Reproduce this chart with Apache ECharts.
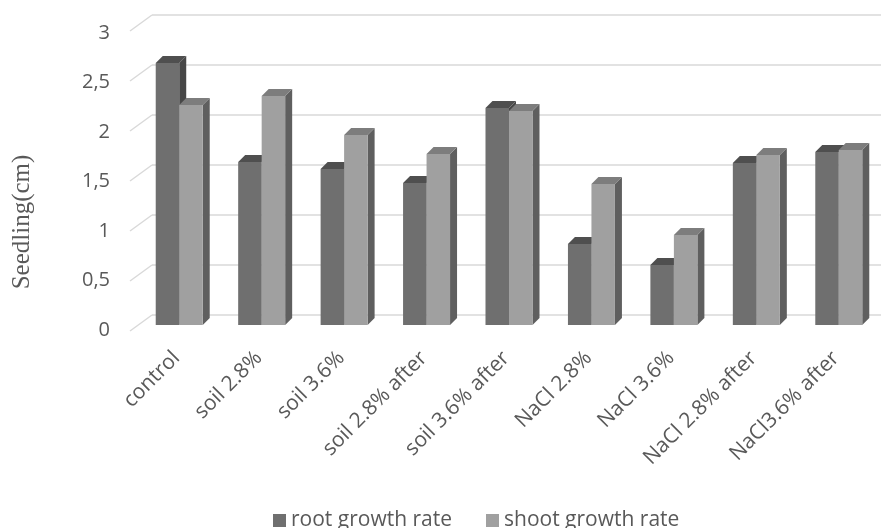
<!DOCTYPE html>
<html><head><meta charset="utf-8">
<script src="https://cdn.jsdelivr.net/npm/echarts@6/dist/echarts.min.js"></script>
<style>html,body{margin:0;padding:0;background:#fff}#c{width:881px;height:528px}</style>
</head><body><div id="c"></div>
<script>
const categories = ['control','soil 2.8%','soil 3.6%','soil 2.8% after','soil 3.6% after','NaCl 2.8%','NaCl 3.6%','NaCl 2.8% after','NaCl3.6% after'];
const rootGrowth = [2.62,1.63,1.56,1.42,2.17,0.81,0.60,1.62,1.73];
const shootGrowth = [2.20,2.29,1.90,1.71,2.14,1.41,0.90,1.70,1.75];
const yTicks = [0,0.5,1,1.5,2,2.5,3];
const seriesNames = ['root growth rate','shoot growth rate'];

const FONT = 'Open Sans';
const TXT = '#595959';
const GRID_C = '#d9d9d9';
const rootColors = {front:'#6f6f6f', top:'#4f4f4f', side:'#474747'};
const shootColors = {front:'#a0a0a0', top:'#7d7d7d', side:'#5f5f5f'};

function barRenderer(idx, colors){
  return function(params, api){
    const i = api.value(0), v = api.value(1);
    const base = api.coord([i,0]);
    const top = api.coord([i,v]);
    const band = api.size([1,0])[0];
    const w = band*0.285;
    const x0 = base[0] - w + idx*w;
    const yb = base[1], yt = top[1];
    const d = 7;
    return {type:'group', children:[
      {type:'polygon', shape:{points:[[x0+w,yt],[x0+w+d,yt-d],[x0+w+d,yb-d],[x0+w,yb]]}, style:{fill:colors.side}},
      {type:'polygon', shape:{points:[[x0,yt],[x0+d,yt-d],[x0+w+d,yt-d],[x0+w,yt]]}, style:{fill:colors.top}},
      {type:'rect', shape:{x:x0,y:yt,width:w,height:yb-yt}, style:{fill:colors.front}}
    ]};
  };
}

function slantRenderer(params, api){
  const v = api.value(0);
  const p = api.coord([0, v]);
  const gx = params.coordSys.x;
  return {type:'line', shape:{x1:gx-8, y1:p[1]+6, x2:gx+14, y2:p[1]-10}, style:{stroke:GRID_C, lineWidth:1.5}};
}

const chart = echarts.init(document.getElementById('c'), null, {renderer:'canvas'});
chart.setOption({
  animation:false,
  backgroundColor:'#fff',
  grid:[
    {left:138, right:1, top:25, bottom:203},
    {left:152, right:0, top:15, bottom:213},
    {left:130, right:1, top:33, bottom:198}
  ],
  xAxis:[
    {gridIndex:0, type:'category', data:categories, axisLine:{show:false}, axisTick:{show:false},
     axisLabel:{interval:0, rotate:45, margin:27, padding:[0,4,0,0], fontSize:21, fontFamily:FONT, color:TXT}},
    {gridIndex:1, type:'category', data:categories, show:false},
    {gridIndex:2, type:'category', data:categories, show:false}
  ],
  yAxis:[
    {gridIndex:0, type:'value', min:0, max:3, interval:0.5, show:false},
    {gridIndex:1, type:'value', min:0, max:3, interval:0.5, axisLabel:{show:false}, axisLine:{show:false}, axisTick:{show:false},
     splitLine:{show:true, lineStyle:{color:GRID_C, width:1.5}}},
    {gridIndex:2, type:'value', min:0, max:3, interval:0.5, axisLine:{show:false}, axisTick:{show:false}, splitLine:{show:false},
     axisLabel:{margin:20, fontSize:20, fontFamily:FONT, color:TXT, formatter:v=>String(v).replace('.',',')}}
  ],
  legend:{
    data:seriesNames, left:268, top:505, icon:'rect', itemWidth:13, itemHeight:13, itemGap:34,
    textStyle:{fontSize:21, fontFamily:FONT, color:TXT}
  },
  graphic:[
    {type:'text', x:22, y:222, rotation:Math.PI/2,
     style:{text:'Seedling(cm)', fontSize:25, fontFamily:'Liberation Serif', fill:TXT, align:'center', verticalAlign:'middle'}}
  ],
  series:[
    {type:'custom', name:'grid-slant', xAxisIndex:0, yAxisIndex:0, renderItem:slantRenderer, data:yTicks.map(v=>[v]), encode:{y:0}, silent:true, z:1},
    {type:'custom', name:seriesNames[0], xAxisIndex:0, yAxisIndex:0, renderItem:barRenderer(0, rootColors),
     data:rootGrowth.map((v,i)=>[i,v]), encode:{x:0,y:1}, itemStyle:{color:rootColors.front}, z:3},
    {type:'custom', name:seriesNames[1], xAxisIndex:0, yAxisIndex:0, renderItem:barRenderer(1, shootColors),
     data:shootGrowth.map((v,i)=>[i,v]), encode:{x:0,y:1}, itemStyle:{color:shootColors.front}, z:4}
  ]
});
</script></body></html>
